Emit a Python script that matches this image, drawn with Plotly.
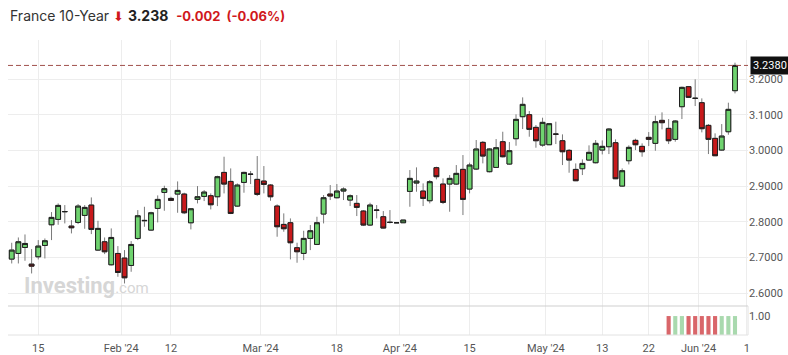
import plotly.graph_objects as go
import pandas as pd

# ---------------- data ----------------
dates = pd.bdate_range("2024-01-09", "2024-06-10").strftime("%Y-%m-%d").tolist()

open_ = [2.6958, 2.7116, 2.7284, 2.6817, 2.7023, 2.7340, 2.7919, 2.8069, 2.8283, 2.7882,
         2.7985, 2.8181, 2.8470, 2.7210, 2.7443, 2.6799, 2.7116, 2.6986, 2.6780, 2.7536,
         2.8031, 2.7770, 2.8377, 2.8825, 2.8657, 2.8778, 2.8778, 2.7975, 2.8629, 2.8713,
         2.8732, 2.8704, 2.9385, 2.9133, 2.8442, 2.9105, 2.9330, 2.9190, 2.9143, 2.9031,
         2.8443, 2.7929, 2.7976, 2.7276, 2.7117, 2.7537, 2.7369, 2.8219, 2.8779, 2.8676,
         2.8863, 2.8611, 2.8518, 2.8303, 2.7911, 2.8331, 2.8144, 2.7988, 2.7976, 2.7976,
         2.8854, 2.9087, 2.8863, 2.8592, 2.9517, 2.9059, 2.9059, 2.9059, 2.9470, 2.8919,
         2.9479, 3.0226, 2.9405, 2.9525, 3.0244, 2.9619, 3.0328, 3.0945, 3.1001, 3.0646,
         3.0151, 3.0160, 3.0459, 3.0272, 3.0002, 2.9469, 2.9488, 2.9731, 2.9656, 3.0011,
         3.0104, 3.0216, 2.9002, 2.9712, 3.0282, 3.0114, 3.0366, 3.0198, 3.0842, 3.0618,
         3.0310, 3.1225, 3.1785, 3.1462, 3.1337, 3.0702, 3.0338, 3.0011, 3.0524, 3.1673]
high = [2.7415, 2.7564, 2.7648, 2.7238, 2.7490, 2.7536, 2.8274, 2.8517, 2.8470, 2.8050,
        2.8498, 2.8470, 2.8685, 2.8031, 2.7564, 2.7817, 2.7322, 2.7210, 2.7462, 2.8330,
        2.8423, 2.8283, 2.8741, 2.9012, 2.8704, 2.9133, 2.8816, 2.8386, 2.9002, 2.8890,
        2.8797, 2.9292, 2.9824, 2.9497, 2.9077, 2.9404, 2.9423, 2.9843, 2.9563, 2.9059,
        2.8490, 2.8238, 2.8097, 2.7416, 2.7752, 2.7911, 2.8144, 2.8751, 2.9031, 2.9059,
        2.8966, 2.8770, 2.8751, 2.8331, 2.8536, 2.8471, 2.8303, 2.8331, 2.7976, 2.8051,
        2.9451, 2.9526, 2.9078, 2.9171, 2.9545, 2.9218, 2.9311, 2.9591, 2.9871, 2.9657,
        3.0292, 3.0264, 3.0058, 3.0319, 3.0524, 3.0235, 3.1010, 3.1486, 3.1103, 3.0711,
        3.0917, 3.0749, 3.0805, 3.0450, 3.0039, 2.9637, 2.9750, 3.0142, 3.0291, 3.0282,
        3.0627, 3.0310, 2.9497, 3.0142, 3.0328, 3.0198, 3.0515, 3.0973, 3.1066, 3.0879,
        3.0851, 3.1785, 3.1804, 3.1990, 3.1458, 3.0739, 3.0478, 3.0739, 3.1337, 3.2457]
low = [2.6836, 2.6836, 2.6911, 2.6556, 2.6948, 2.6976, 2.7490, 2.7919, 2.7957, 2.7677,
       2.7938, 2.7807, 2.7658, 2.7191, 2.7098, 2.6780, 2.6463, 2.6276, 2.6603, 2.7490,
       2.7863, 2.7751, 2.7985, 2.8311, 2.8592, 2.8255, 2.8218, 2.7789, 2.8517, 2.8582,
       2.8349, 2.8442, 2.8797, 2.8218, 2.8423, 2.8816, 2.9059, 2.8723, 2.8798, 2.8592,
       2.7584, 2.7724, 2.6949, 2.6856, 2.6930, 2.7210, 2.7351, 2.7957, 2.8611, 2.8658,
       2.8611, 2.8443, 2.8163, 2.7883, 2.7883, 2.8097, 2.7817, 2.7957, 2.7976, 2.7976,
       2.8424, 2.8844, 2.8443, 2.8518, 2.9190, 2.8499, 2.8284, 2.9031, 2.8191, 2.8798,
       2.9451, 2.9638, 2.9386, 2.9516, 2.9805, 2.9600, 3.0132, 3.0599, 3.0384, 3.0076,
       3.0104, 3.0151, 3.0179, 2.9591, 2.9376, 2.9143, 2.9311, 2.9721, 2.9637, 2.9889,
       2.9899, 2.9199, 2.8984, 2.9609, 3.0011, 2.9824, 3.0123, 2.9992, 3.0590, 3.0179,
       3.0244, 3.0879, 3.1477, 3.1243, 3.0506, 2.9899, 2.9843, 2.9992, 3.0440, 3.1598]
close = [2.7210, 2.7443, 2.7396, 2.6761, 2.7322, 2.7471, 2.8125, 2.8461, 2.8290, 2.7835,
         2.8442, 2.8405, 2.7789, 2.7817, 2.7163, 2.7564, 2.6584, 2.6435, 2.7368, 2.8171,
         2.8040, 2.8255, 2.8629, 2.8928, 2.8601, 2.8881, 2.8255, 2.8367, 2.8704, 2.8834,
         2.8480, 2.9264, 2.9058, 2.8237, 2.9030, 2.9385, 2.9335, 2.8770, 2.9050, 2.8704,
         2.7864, 2.7808, 2.7416, 2.7164, 2.7537, 2.7752, 2.7976, 2.8676, 2.8723, 2.8863,
         2.8919, 2.8732, 2.8406, 2.7911, 2.8471, 2.8325, 2.7827, 2.7985, 2.7976, 2.8051,
         2.9218, 2.9143, 2.8658, 2.9125, 2.9265, 2.8546, 2.9218, 2.9358, 2.8630, 2.9591,
         3.0040, 2.9843, 3.0040, 3.0076, 2.9824, 2.9993, 3.0870, 3.1290, 3.0590, 3.0272,
         3.0786, 3.0749, 3.0455, 2.9964, 2.9731, 2.9152, 2.9637, 2.9946, 3.0198, 3.0114,
         3.0599, 2.9208, 2.9432, 3.0086, 3.0160, 2.9964, 3.0310, 3.0805, 3.0777, 3.0272,
         3.0823, 3.1766, 3.1486, 3.1458, 3.0609, 3.0310, 2.9852, 3.0403, 3.1150, 3.2380]

volume_dates = ["2024-05-27", "2024-05-28", "2024-05-29", "2024-05-30", "2024-05-31",
                "2024-06-03", "2024-06-04", "2024-06-05", "2024-06-06", "2024-06-07",
                "2024-06-10"]
volume = [1.0, 1.0, 1.0, 1.0, 1.0, 1.0, 1.0, 1.0, 1.0, 1.0, 1.0]

price_ticks = [2.6, 2.7, 2.8, 2.9, 3.0, 3.1, 3.2]
day_labels = {"2024-01-15": "15", "2024-02-12": "12", "2024-03-18": "18",
              "2024-04-15": "15", "2024-05-13": "13", "2024-05-22": "22"}
month_labels = {"2024-02-01": "Feb '24", "2024-03-01": "Mar '24", "2024-04-01": "Apr '24",
                "2024-05-01": "May '24", "2024-06-03": "Jun '24"}
edge_label = "1"

last = close[-1]
prev = 3.240
chg = last - prev

# ---------------- figure ----------------
pos = list(range(len(dates)))
idx = {d: i for i, d in enumerate(dates)}

GREEN = "#6fd36f"
RED = "#c8191b"
OUT = "#1e1e1e"
WICK = "#7a7a7a"

fig = go.Figure()
# wicks
fig.add_trace(go.Candlestick(
    x=pos, open=open_, high=high, low=low, close=close,
    increasing=dict(line=dict(color=WICK, width=1), fillcolor=WICK),
    decreasing=dict(line=dict(color=WICK, width=1), fillcolor=WICK),
    whiskerwidth=0, showlegend=False, hoverinfo="skip"))
# bodies
fig.add_trace(go.Candlestick(
    x=pos, open=open_, close=close,
    high=[max(o, c) for o, c in zip(open_, close)],
    low=[min(o, c) for o, c in zip(open_, close)],
    increasing=dict(line=dict(color=OUT, width=1), fillcolor=GREEN),
    decreasing=dict(line=dict(color=OUT, width=1), fillcolor=RED),
    whiskerwidth=0, showlegend=False))

vpos = [idx[d] for d in volume_dates]
vcol = ["#a9d9ae" if close[i] > open_[i] else "#d9666a" for i in vpos]
fig.add_trace(go.Bar(x=vpos, y=volume, marker=dict(color=vcol, line=dict(width=0)),
                     width=0.62, yaxis="y2", showlegend=False))

tickvals = [idx[d] for d in day_labels] + [idx[d] - 0.5 for d in month_labels]
ticktext = list(day_labels.values()) + list(month_labels.values())
tickvals.append(len(dates) + 0.8)
ticktext.append(edge_label)

TICKFONT = dict(family="Roboto, Arial, sans-serif", size=11, color="#555555")

fig.update_layout(
    width=788, height=355,
    margin=dict(l=8, r=40, t=40, b=20),
    paper_bgcolor="white", plot_bgcolor="white",
    boxgap=0.0, boxgroupgap=0.28,
    showlegend=False,
    xaxis=dict(range=[-0.56, len(dates) + 0.96], tickvals=tickvals, ticktext=ticktext,
               showgrid=True, gridcolor="#ededed", gridwidth=1, zeroline=False,
               showline=False, ticks="", tickfont=TICKFONT, anchor="y2",
               ticklabelstandoff=5, automargin=False,
               rangeslider=dict(visible=False), fixedrange=True),
    yaxis=dict(domain=[0.1, 1.0], range=[2.5659, 3.3092], side="right",
               tickvals=price_ticks, tickformat=".4f", showgrid=True, gridcolor="#ededed",
               zeroline=False, showline=False, ticks="", tickfont=TICKFONT, anchor="x",
               automargin=False),
    yaxis2=dict(domain=[0.0, 0.0983], range=[0, 1.53], side="right", tickvals=[1.0],
                ticktext=["1.00"], showgrid=False, zeroline=False, showline=False,
                ticks="", tickfont=TICKFONT, anchor="x", automargin=False),
)

# panel borders
fig.add_shape(type="line", xref="x domain", yref="y2 domain", x0=0, x1=1, y0=1, y1=1,
              line=dict(color="#cfcfcf", width=1))
fig.add_shape(type="line", xref="x domain", yref="y2 domain", x0=0, x1=1, y0=0, y1=0,
              line=dict(color="#e2e2e2", width=1))
fig.add_shape(type="line", xref="x domain", yref="y2 domain", x0=1, x1=1, y0=0, y1=1,
              line=dict(color="#e2e2e2", width=1))
# last price line
fig.add_shape(type="line", xref="x domain", yref="y", x0=0, x1=1, y0=last, y1=last,
              line=dict(color="#a0504c", width=1, dash="5px,3px"))
fig.add_annotation(xref="paper", yref="y", x=1, y=last, xanchor="left", yanchor="middle",
                   xshift=2, text=f"{last:.4f}", showarrow=False, bgcolor="#111111",
                   borderpad=2, font=dict(family="Roboto, Arial, sans-serif", size=11,
                                          color="white"))

# title
title = (f"France 10-Year <span style='color:#d0181c;font-size:13px'>⬇</span> "
         f"<b style='color:#222'>{last:.3f}</b>  "
         f"<b><span style='color:#d0181c;font-size:13px'>{chg:+.3f}  ({chg / prev * 100:+.2f}%)</span></b>")
fig.add_annotation(xref="paper", yref="paper", x=0, y=1.0814, xanchor="left",
                   yanchor="middle", text=title, showarrow=False,
                   font=dict(family="Inter, Roboto, sans-serif", size=14, color="#333333"))

# watermark
fig.add_annotation(xref="paper", yref="y", x=0.019, y=2.6233, xanchor="left",
                   yanchor="middle",
                   text="<b>Investing</b><span style='font-size:15px'>.com</span>",
                   showarrow=False,
                   font=dict(family="Roboto, Arial, sans-serif", size=22, color="#d6d6d6"))

fig.write_html("out.html")
